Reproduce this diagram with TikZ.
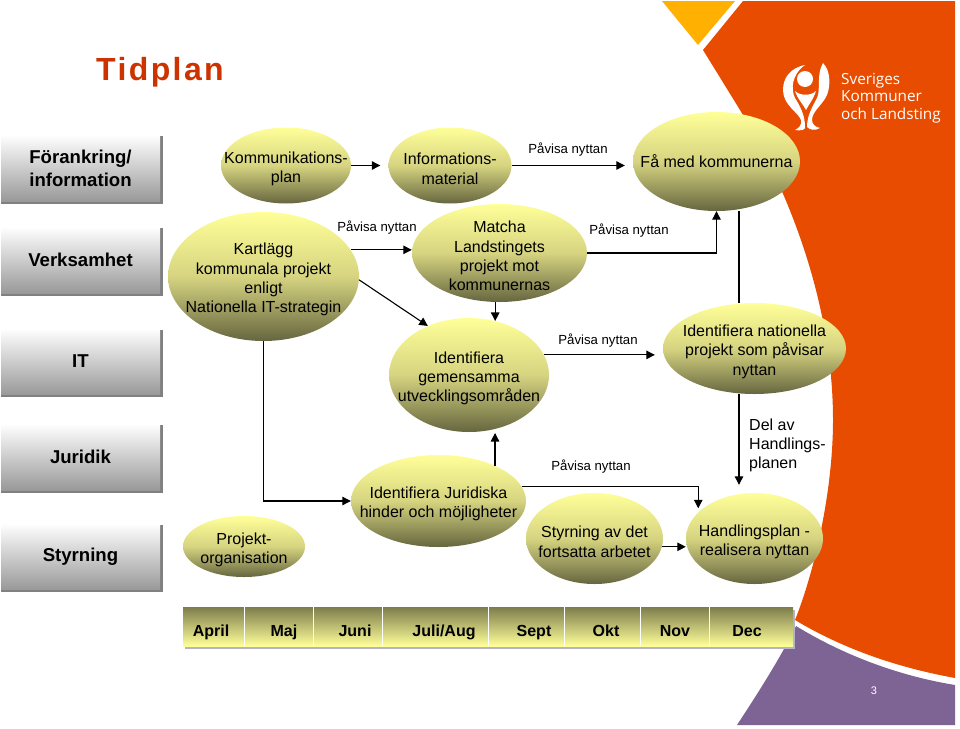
\documentclass[tikz,border=0pt]{standalone}
\usepackage{fontspec}
\setmainfont{Liberation Sans}
\newfontfamily\logofont{Open Sans}
\usetikzlibrary{shapes.geometric,arrows.meta,shadows}

\definecolor{bubbletop}{HTML}{FFFF99}
\definecolor{bubblemid}{HTML}{D6D480}
\definecolor{bubblebot}{HTML}{666640}
\definecolor{barshadow}{HTML}{B4B4C6}
\definecolor{boxshadow}{HTML}{808080}
\definecolor{skorange}{HTML}{E84C00}
\definecolor{skyellow}{HTML}{FFB000}
\definecolor{skpurple}{HTML}{7E6395}
\definecolor{titlered}{HTML}{CC3300}

\newcommand{\topstrut}{\rule{0pt}{18pt}}

\tikzset{
	bubble/.style={ellipse,inner sep=-45pt,align=center,top color=bubbletop,bottom color=bubblebot,middle color=bubblemid,font=\fontsize{16}{19.3}\selectfont},
	rowbox/.style={rectangle,minimum width=159pt,minimum height=66pt,align=center,top color=white,bottom color=black!40,general shadow={shadow xshift=1.5pt,shadow yshift=-1.9pt,shadow scale=1.02,fill=boxshadow},font=\fontsize{18.6}{22.7}\selectfont\bfseries},
	gainlabel/.style={font=\fontsize{13.2}{16}\selectfont,inner sep=0pt},
	monthlabel/.style={anchor=base,font=\fontsize{16}{19}\selectfont\bfseries,inner sep=0pt},
	arrowline/.style={line width=1.1pt,-{Triangle[length=8.5pt,width=8.5pt]}},
	plainline/.style={line width=1.1pt}
}

\begin{document}
\begin{tikzpicture}[x=1pt,y=-1pt]
	
	\useasboundingbox (0,0) rectangle (960,728);
	
	% Background
	\fill[skorange] (743,1) -- (955,1) -- (955,678) .. controls (900,668) and (845,650) .. (795,620)
		.. controls (815,570) and (833,490) .. (833,420) .. controls (833,320) and (800,210) .. (740,110) -- (703,50) -- cycle;
	\fill[skyellow] (662,1) -- (735,1) -- (698,45) -- cycle;
	\fill[skpurple] (737,725) .. controls (760,690) and (782,655) .. (796,626)
		.. controls (845,656) and (900,676) .. (955,685) -- (955,725) -- cycle;
	
	% Logo
	\fill[white] (805,65) .. controls (790,68) and (783,78) .. (783,90) .. controls (783,105) and (798,112) .. (801,120)
		.. controls (802,125) and (799,128) .. (795,130) .. controls (800,131) and (806,130) .. (805,127)
		.. controls (805,115) and (800,106) .. (795,98) .. controls (791,90) and (791,75) .. cycle;
	\fill[white] (823,63) .. controls (832,72) and (830,90) .. (826,97) .. controls (821,106) and (812,112) .. (812,120)
		.. controls (812,124) and (815,127) .. (820,128) .. controls (815,131) and (810,130) .. (807,127)
		.. controls (807,115) and (813,106) .. (817,98) .. controls (821,90) and (816,75) .. cycle;
	\fill[white] (805,79) circle (8);
	\fill[white] (795,91) .. controls (800,96) and (811,96) .. (816,91) .. controls (813,100) and (809,104) .. (806,110) .. controls (803,104) and (798,100) .. cycle;
	\node[anchor=base west,inner sep=0pt,text=white,align=left,font=\logofont\fontsize{15.3}{17.4}\selectfont] (logotext) at (841,119) {Sveriges\\Kommuner\\och Landsting};
	
	% Title
	\node[anchor=base west,inner sep=0pt,text=titlered,font=\fontsize{32}{38}\selectfont\bfseries\addfontfeature{LetterSpace=7.5}] (title) at (96,80) {Tidplan};
	
	% Rows
	\node[rowbox] (forankring) at (80.5,168) {Förankring/\\information};
	\node[rowbox] (verksamhet) at (80.5,260) {Verksamhet};
	\node[rowbox] (itrow) at (80.5,361.5) {IT};
	\node[rowbox] (juridik) at (80.5,457) {Juridik};
	\node[rowbox] (styrning) at (80.5,556.5) {Styrning};
	
	% Ellipses
	\node[bubble,minimum width=130pt,minimum height=76pt] (kommplan) at (286,165.5) {\topstrut Kommunikations-\\plan};
	\node[bubble,minimum width=123pt,minimum height=76pt] (infomat) at (450,165.5) {\topstrut Informations-\\material};
	\node[bubble,minimum width=167pt,minimum height=99pt] (kommunerna) at (716.5,161.5) {Få med kommunerna};
	\node[bubble,minimum width=191pt,minimum height=129pt] (kartlagg) at (263.5,276.5) {\topstrut Kartlägg\\kommunala projekt\\enligt\\Nationella IT-strategin};
	\node[bubble,minimum width=175pt,minimum height=98pt] (matcha) at (499.5,253) {\topstrut Matcha\\Landstingets\\projekt mot\\kommunernas};
	\node[bubble,minimum width=160pt,minimum height=114pt] (gemensamma) at (469,375) {\topstrut Identifiera\\gemensamma\\utvecklingsområden};
	\node[bubble,minimum width=183pt,minimum height=91pt] (nationella) at (754.5,348.5) {\topstrut Identifiera nationella\\projekt som påvisar\\nyttan};
	\node[bubble,minimum width=175pt,minimum height=92pt] (hinder) at (438.5,501) {\topstrut Identifiera Juridiska\\hinder och möjligheter};
	\node[bubble,minimum width=122pt,minimum height=61pt] (projorg) at (244,546.5) {\topstrut Projekt-\\organisation};
	\node[bubble,minimum width=137pt,minimum height=91pt] (fortsatta) at (594.5,538.5) {\topstrut Styrning av det\\fortsatta arbetet};
	\node[bubble,minimum width=137pt,minimum height=91pt] (handplan) at (754.5,538.5) {\topstrut Handlingsplan -\\realisera nyttan};
	
	% Arrows
	\draw[arrowline,shorten >=8pt] (kommplan.east) -- (infomat.west);
	\draw[arrowline,shorten >=8pt] (infomat.east) -- (infomat.east -| kommunerna.west);
	\draw[arrowline] (kartlagg.17) -- (kartlagg.17 -| matcha.west);
	\draw[arrowline] (kartlagg.-2) -- (gemensamma.130);
	\draw[arrowline] (matcha.east) -| (kommunerna.south);
	\draw[arrowline] (matcha.265) -- (matcha.265 |- gemensamma.64);
	\draw[arrowline,shorten >=8pt] (gemensamma.15) -- (gemensamma.15 -| nationella.west);
	\draw[plainline] (nationella.109) -- (nationella.109 |- kommunerna.south);
	\draw[arrowline,shorten >=8pt] (nationella.251) -- (nationella.251 |- handplan.north);
	\draw[arrowline] (kartlagg.south) |- (hinder.west);
	\draw[arrowline,shorten >=4pt] (hinder.32) -- (hinder.32 |- gemensamma.-64);
	\draw[arrowline,shorten >=4pt] (hinder.10) -| (handplan.155);
	\draw[arrowline] (fortsatta.-7) -- (fortsatta.-7 -| handplan.west);
	
	% Labels
	\node[gainlabel] (gain1) at (568,150) {Påvisa nyttan};
	\node[gainlabel] (gain2) at (377,228) {Påvisa nyttan};
	\node[gainlabel] (gain3) at (629,231) {Påvisa nyttan};
	\node[gainlabel] (gain4) at (598,341) {Påvisa nyttan};
	\node[gainlabel] (gain5) at (591,467) {Påvisa nyttan};
	\node[anchor=west,inner sep=0pt,align=left,font=\fontsize{16}{19.3}\selectfont] (delav) at (749,445.5) {Del av\\Handlings-\\planen};
	
	% Months
	\node[rectangle,minimum width=610pt,minimum height=39pt,top color=bubblebot!85!bubbletop,bottom color=bubbletop,general shadow={shadow xshift=2pt,shadow yshift=-3pt,fill=barshadow}] (monthbar) at (488,626.5) {};
	\draw[white] (244,0 |- monthbar.north) -- (244,0 |- monthbar.south);
	\draw[white] (313,0 |- monthbar.north) -- (313,0 |- monthbar.south);
	\draw[white] (382,0 |- monthbar.north) -- (382,0 |- monthbar.south);
	\draw[white] (488,0 |- monthbar.north) -- (488,0 |- monthbar.south);
	\draw[white] (564,0 |- monthbar.north) -- (564,0 |- monthbar.south);
	\draw[white] (640,0 |- monthbar.north) -- (640,0 |- monthbar.south);
	\draw[white] (709,0 |- monthbar.north) -- (709,0 |- monthbar.south);
	\node[monthlabel] (april) at (211,636) {April};
	\node[monthlabel] (maj) at (284,636) {Maj};
	\node[monthlabel] (juni) at (355,636) {Juni};
	\node[monthlabel] (juliaug) at (444,636) {Juli/Aug};
	\node[monthlabel] (sept) at (534,636) {Sept};
	\node[monthlabel] (okt) at (606,636) {Okt};
	\node[monthlabel] (nov) at (675,636) {Nov};
	\node[monthlabel] (dec) at (747,636) {Dec};
	
	% Page number
	\node[inner sep=0pt,text=white,font=\fontsize{11}{13}\selectfont] (pagenum) at (874,691) {3};
	
\end{tikzpicture}
\end{document}
